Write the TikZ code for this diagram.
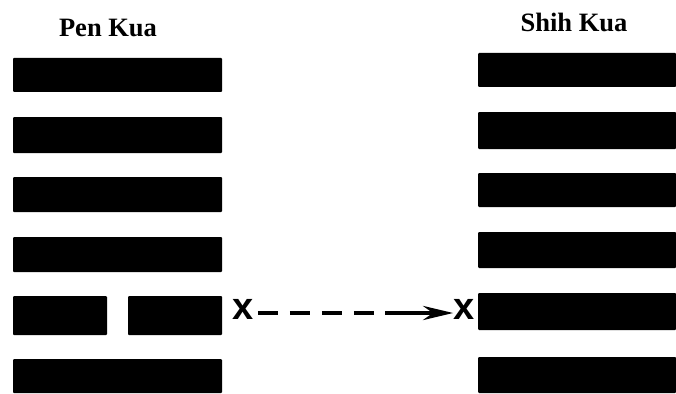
\documentclass[tikz,border=0pt]{standalone}
\usepackage{fontspec}
\setmainfont{Liberation Serif}
\newfontfamily\xfont{Liberation Sans}
\usetikzlibrary{arrows.meta}
\begin{document}
\begin{tikzpicture}[x=1pt,y=-1pt,
  bar/.style={fill=black, inner sep=0pt, outer sep=0pt, anchor=north west, rounded corners=1pt},
  title/.style={font=\fontsize{26.5}{28}\selectfont\bfseries, inner sep=0pt, anchor=base},
  xmark/.style={font=\xfont\fontsize{38}{38}\selectfont\bfseries, inner sep=0pt},
  dashline/.style={line width=4.5pt, dash pattern=on 20pt off 12pt},
  solidline/.style={line width=4.5pt, -{Stealth[length=30pt,width=14pt]}}]
\useasboundingbox (0,0) rectangle (676,393);
% titles
\node[title] (pen) at (108,37) {Pen Kua};
\node[title] (shih) at (574,32) {Shih Kua};
% left hexagram (Pen Kua)
\node[bar, minimum width=209pt, minimum height=34pt] (l1) at (13,58) {};
\node[bar, minimum width=209pt, minimum height=36pt] (l2) at (13,117) {};
\node[bar, minimum width=209pt, minimum height=35pt] (l3) at (13,177) {};
\node[bar, minimum width=209pt, minimum height=35pt] (l4) at (13,237) {};
\node[bar, minimum width=94pt, minimum height=39pt] (l5a) at (13,296) {};
\node[bar, minimum width=94pt, minimum height=39pt] (l5b) at (128,296) {};
\node[bar, minimum width=209pt, minimum height=34pt] (l6) at (13,359) {};
% right hexagram (Shih Kua)
\node[bar, minimum width=198pt, minimum height=34pt] (r1) at (478,53) {};
\node[bar, minimum width=198pt, minimum height=37pt] (r2) at (478,112) {};
\node[bar, minimum width=198pt, minimum height=34pt] (r3) at (478,173) {};
\node[bar, minimum width=198pt, minimum height=36pt] (r4) at (478,232) {};
\node[bar, minimum width=198pt, minimum height=37pt] (r5) at (478,293) {};
\node[bar, minimum width=198pt, minimum height=36pt] (r6) at (478,357) {};
% change marks and arrow
\node[xmark] (xa) at (243,309) {x};
\node[xmark] (xb) at (464,309) {x};
\coordinate (m) at (385,313);
\draw[dashline] (xa.east |- m) ++(4,0) -- (m);
\draw[solidline] (m) -- (xb.west |- m);
\end{tikzpicture}
\end{document}
